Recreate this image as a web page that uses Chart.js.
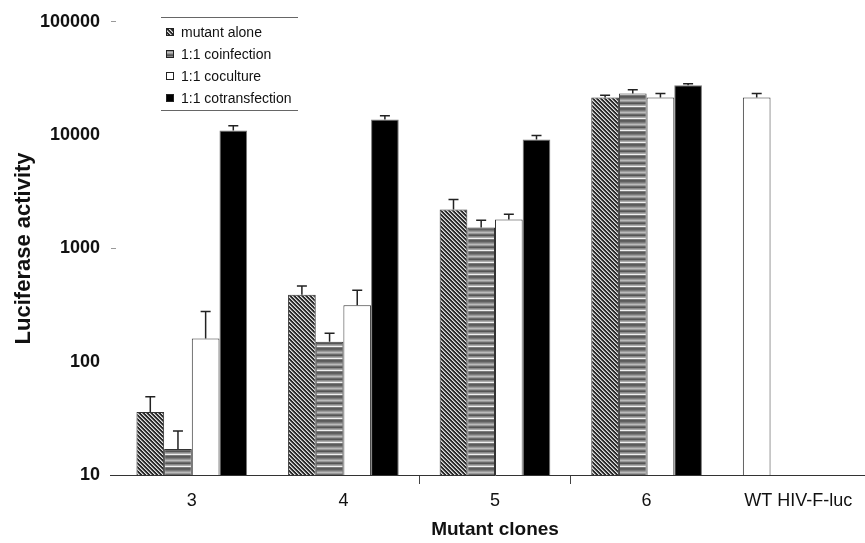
<!DOCTYPE html>
<html>
<head>
<meta charset="utf-8">
<script src="https://cdn.jsdelivr.net/npm/chart.js@4/dist/chart.umd.min.js"></script>
<style>
  body { margin: 0; background: #fff; overflow: hidden; }
</style>
</head>
<body>
<canvas id="grafica" width="880" height="543"></canvas>
<script>
// categories and series
const categories = ["3", "4", "5", "6", "WT HIV-F-luc"];
const seriesNames = ["mutant alone", "1:1 coinfection", "1:1 coculture", "1:1 cotransfection"];
// the WT control sits in the first slot of its group but is drawn white
const mutantAlone = [36, 390, 2200, 21500, 21500];
const mutantAloneErr = [49, 465, 2700, 22500, 23300];
const coinfection = [17, 150, 1530, 23300, null];
const coinfectionErr = [24.5, 178, 1770, 25100, null];
const coculture = [160, 315, 1800, 21500, null];
const cocultureErr = [277, 427, 2000, 23300, null];
const cotransfection = [10970, 13700, 9130, 27500, null];
const cotransfectionErr = [12100, 14800, 9900, 28400, null];
const yTicks = [10, 100, 1000, 10000, 100000];

function hatchPattern() {
  const c = document.createElement("canvas");
  c.width = 4; c.height = 4;
  const g = c.getContext("2d");
  g.fillStyle = "#2a2a2a";
  g.fillRect(0, 0, 4, 4);
  for (let i = 0; i < 4; i++) {
    g.fillStyle = "#e0e0e0";
    g.fillRect(i, i, 1, 1);
    g.fillStyle = "#909090";
    g.fillRect((i + 1) % 4, i, 1, 1);
  }
  return g.createPattern(c, "repeat");
}

function stripePattern() {
  const c = document.createElement("canvas");
  c.width = 2; c.height = 12;
  const g = c.getContext("2d");
  const rows = ["#5a5a5a", "#606060", "#7a7a7a", "#9a9a9a", "#bbb", "#999", "#6a6a6a", "#555", "#888", "#aaa", "#f0f0f0", "#7a7a7a"];
  rows.forEach((col, i) => { g.fillStyle = col; g.fillRect(0, i, 2, 1); });
  return g.createPattern(c, "repeat");
}

const hatch = hatchPattern();
const stripes = stripePattern();
const legendFills = [hatch, stripes, "#ffffff", "#000000"];

const errorBars = {
  id: "errorBars",
  afterDatasetsDraw(chart) {
    const ctx = chart.ctx;
    const y = chart.scales.y;
    ctx.save();
    ctx.strokeStyle = "#222";
    ctx.lineWidth = 1.5;
    chart.data.datasets.forEach((ds, di) => {
      const meta = chart.getDatasetMeta(di);
      meta.data.forEach((bar, i) => {
        const e = ds.errors[i];
        if (e == null || ds.data[i] == null) return;
        const top = y.getPixelForValue(e);
        ctx.beginPath();
        ctx.moveTo(bar.x, bar.y);
        ctx.lineTo(bar.x, top);
        ctx.moveTo(bar.x - 5, top);
        ctx.lineTo(bar.x + 5, top);
        ctx.stroke();
      });
    });
    ctx.restore();
  }
};

const boxLegend = {
  id: "boxLegend",
  afterDraw(chart) {
    const ctx = chart.ctx;
    ctx.save();
    // axis line reaches a little left of the plot area, as in the original
    ctx.strokeStyle = "#333";
    ctx.lineWidth = 1;
    ctx.beginPath();
    ctx.moveTo(110, chart.chartArea.bottom + 0.5);
    ctx.lineTo(chart.chartArea.left, chart.chartArea.bottom + 0.5);
    ctx.stroke();

    ctx.strokeStyle = "#666";
    ctx.beginPath();
    ctx.moveTo(161, 17.5); ctx.lineTo(298, 17.5);
    ctx.moveTo(161, 110.5); ctx.lineTo(298, 110.5);
    ctx.stroke();
    ctx.font = "14px 'Liberation Sans', Arial, sans-serif";
    ctx.textBaseline = "middle";
    seriesNames.forEach((name, i) => {
      const cy = 32 + i * 22;
      ctx.fillStyle = legendFills[i];
      ctx.fillRect(166, cy - 4, 8, 8);
      ctx.strokeStyle = "#222";
      ctx.strokeRect(166.5, cy - 3.5, 7, 7);
      ctx.fillStyle = "#111";
      ctx.fillText(name, 181, cy + 1);
    });
    ctx.restore();
  }
};

const ctx = document.getElementById("grafica").getContext("2d");
new Chart(ctx, {
  type: "bar",
  data: {
    labels: categories,
    datasets: [
      { label: seriesNames[0], data: mutantAlone, errors: mutantAloneErr,
        backgroundColor: [hatch, hatch, hatch, hatch, "#ffffff"], borderColor: "#333" },
      { label: seriesNames[1], data: coinfection, errors: coinfectionErr,
        backgroundColor: stripes, borderColor: "#333" },
      { label: seriesNames[2], data: coculture, errors: cocultureErr,
        backgroundColor: "#ffffff", borderColor: "#333" },
      { label: seriesNames[3], data: cotransfection, errors: cotransfectionErr,
        backgroundColor: "#000000", borderColor: "#777" }
    ]
  },
  options: {
    responsive: false,
    animation: false,
    layout: { padding: { top: 21, right: 6, left: 0, bottom: 0 } },
    datasets: { bar: { borderWidth: 1, barPercentage: 1, categoryPercentage: 0.73 } },
    plugins: { legend: { display: false }, tooltip: { enabled: false } },
    scales: {
      x: {
        afterFit(s) { s.height = 68; },
        border: { color: "#333", width: 1 },
        grid: {
          offset: true,
          drawOnChartArea: false,
          tickLength: 9,
          color: (c) => (c.index === 2 || c.index === 3) ? "#444" : "rgba(0,0,0,0)"
        },
        ticks: { color: "#111", padding: 6, font: { family: "'Liberation Sans', Arial", size: 18 } },
        title: {
          display: true, text: "Mutant clones", color: "#111",
          font: { family: "'Liberation Sans', Arial", size: 19, weight: "bold" },
          padding: { top: 0, bottom: 2 }
        }
      },
      y: {
        type: "logarithmic",
        min: 10,
        max: 100000,
        afterFit(s) { s.width = 116; },
        afterBuildTicks(s) { s.ticks = yTicks.map(v => ({ value: v })); },
        border: { display: false },
        grid: {
          drawOnChartArea: false,
          tickLength: 5,
          color: (c) => (c.tick && (c.tick.value === 100000 || c.tick.value === 1000)) ? "#999" : "rgba(0,0,0,0)"
        },
        ticks: {
          color: "#111", padding: 11,
          font: { family: "'Liberation Sans', Arial", size: 18, weight: "bold" },
          callback: (v) => String(v)
        },
        title: {
          display: true, text: "Luciferase activity", color: "#111",
          font: { family: "'Liberation Sans', Arial", size: 22, weight: "bold" },
          padding: { top: 11, bottom: 0 }
        }
      }
    }
  },
  plugins: [errorBars, boxLegend]
});
</script>
</body>
</html>
